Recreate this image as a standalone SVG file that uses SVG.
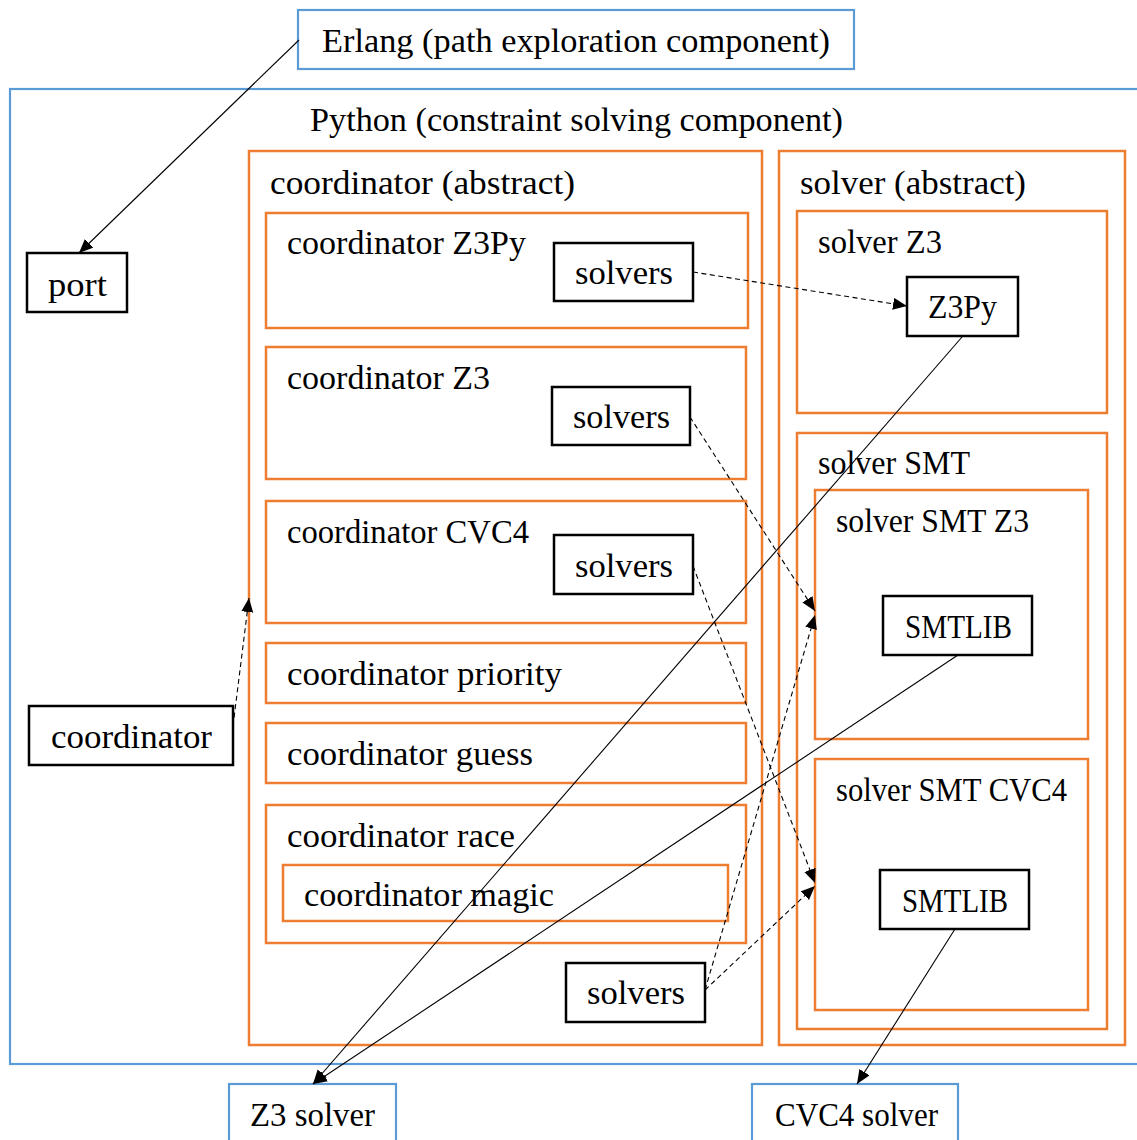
<svg xmlns="http://www.w3.org/2000/svg" width="1137" height="1140" viewBox="0 0 1137 1140">
<style>
.blue{fill:none;stroke:#5b9bd5;stroke-width:2.2}
.orange{fill:none;stroke:#ed7d31;stroke-width:2.5}
.box{fill:#fff;stroke:#000;stroke-width:2.5}
text{font-family:"Liberation Serif","DejaVu Serif",serif;font-size:34px;fill:#000}
.edge{fill:none;stroke:#000;stroke-width:1.1;marker-end:url(#arr)}
.dash{stroke-dasharray:5,3.5}
</style>
<defs>
<marker id="arr" markerUnits="userSpaceOnUse" markerWidth="16" markerHeight="14" refX="14" refY="6" orient="auto">
<path d="M0,0 L14,6 L0,12 z" fill="#000"/>
</marker>
</defs>
<rect width="1137" height="1140" fill="#fff"/>

<g id="erlang"><rect class="blue" x="298" y="10" width="556" height="59"/><text x="322" y="52" textLength="508" lengthAdjust="spacingAndGlyphs">Erlang (path exploration component)</text></g>
<g id="python"><rect class="blue" x="10" y="89" width="1140" height="975"/><text x="310" y="131" textLength="533" lengthAdjust="spacingAndGlyphs">Python (constraint solving component)</text></g>

<g id="coord-abstract"><rect class="orange" x="249" y="151" width="513" height="894"/><text x="270" y="194" textLength="305" lengthAdjust="spacingAndGlyphs">coordinator (abstract)</text></g>
<g id="coord-z3py"><rect class="orange" x="266" y="213" width="482" height="115"/><text x="287" y="254" textLength="239" lengthAdjust="spacingAndGlyphs">coordinator Z3Py</text></g>
<g id="solvers1"><rect class="box" x="554" y="243" width="139" height="58"/><text x="575" y="284" textLength="98" lengthAdjust="spacingAndGlyphs">solvers</text></g>
<g id="coord-z3"><rect class="orange" x="266" y="347" width="480" height="132"/><text x="287" y="389" textLength="203" lengthAdjust="spacingAndGlyphs">coordinator Z3</text></g>
<g id="solvers2"><rect class="box" x="552" y="387" width="138" height="58"/><text x="573" y="428" textLength="97" lengthAdjust="spacingAndGlyphs">solvers</text></g>
<g id="coord-cvc4"><rect class="orange" x="266" y="501" width="480" height="122"/><text x="287" y="543" textLength="242" lengthAdjust="spacingAndGlyphs">coordinator CVC4</text></g>
<g id="solvers3"><rect class="box" x="554" y="535" width="139" height="59"/><text x="575" y="577" textLength="98" lengthAdjust="spacingAndGlyphs">solvers</text></g>
<g id="coord-priority"><rect class="orange" x="266" y="643" width="480" height="60"/><text x="287" y="685" textLength="275" lengthAdjust="spacingAndGlyphs">coordinator priority</text></g>
<g id="coord-guess"><rect class="orange" x="266" y="723" width="480" height="60"/><text x="287" y="765" textLength="246" lengthAdjust="spacingAndGlyphs">coordinator guess</text></g>
<g id="coord-race"><rect class="orange" x="266" y="805" width="480" height="138"/><text x="287" y="847" textLength="228" lengthAdjust="spacingAndGlyphs">coordinator race</text></g>
<g id="coord-magic"><rect class="orange" x="283" y="865" width="445" height="56"/><text x="304" y="906" textLength="250" lengthAdjust="spacingAndGlyphs">coordinator magic</text></g>
<g id="solvers4"><rect class="box" x="566" y="963" width="139" height="59"/><text x="587" y="1004" textLength="98" lengthAdjust="spacingAndGlyphs">solvers</text></g>

<g id="port"><rect class="box" x="27" y="253" width="100" height="59"/><text x="48" y="296" textLength="59" lengthAdjust="spacingAndGlyphs">port</text></g>
<g id="coordinator"><rect class="box" x="29" y="706" width="204" height="59"/><text x="51" y="748" textLength="161" lengthAdjust="spacingAndGlyphs">coordinator</text></g>

<g id="solver-abstract"><rect class="orange" x="779" y="151" width="346" height="894"/><text x="800" y="194" textLength="226" lengthAdjust="spacingAndGlyphs">solver (abstract)</text></g>
<g id="solver-z3"><rect class="orange" x="797" y="211" width="310" height="202"/><text x="818" y="253" textLength="124" lengthAdjust="spacingAndGlyphs">solver Z3</text></g>
<g id="z3py"><rect class="box" x="907" y="277" width="111" height="59"/><text x="928" y="318" textLength="69" lengthAdjust="spacingAndGlyphs">Z3Py</text></g>
<g id="solver-smt"><rect class="orange" x="797" y="433" width="310" height="596"/><text x="818" y="474" textLength="152" lengthAdjust="spacingAndGlyphs">solver SMT</text></g>
<g id="solver-smt-z3"><rect class="orange" x="815" y="490" width="273" height="249"/><text x="836" y="532" textLength="193" lengthAdjust="spacingAndGlyphs">solver SMT Z3</text></g>
<g id="smtlib1"><rect class="box" x="883" y="596" width="149" height="59"/><text x="905" y="638" textLength="107" lengthAdjust="spacingAndGlyphs">SMTLIB</text></g>
<g id="solver-smt-cvc4"><rect class="orange" x="815" y="759" width="273" height="251"/><text x="836" y="801" textLength="231" lengthAdjust="spacingAndGlyphs">solver SMT CVC4</text></g>
<g id="smtlib2"><rect class="box" x="880" y="870" width="149" height="59"/><text x="902" y="912" textLength="106" lengthAdjust="spacingAndGlyphs">SMTLIB</text></g>

<g id="z3-solver"><rect class="blue" x="229" y="1084" width="167" height="70"/><text x="250" y="1126" textLength="125" lengthAdjust="spacingAndGlyphs">Z3 solver</text></g>
<g id="cvc4-solver"><rect class="blue" x="752" y="1084" width="206" height="70"/><text x="775" y="1126" textLength="163" lengthAdjust="spacingAndGlyphs">CVC4 solver</text></g>

<g id="connectors">
<path class="edge" d="M299,40 L79,253"/>
<path class="edge dash" d="M693,272 L907,306"/>
<path class="edge" d="M962,337 L313,1084"/>
<path class="edge dash" d="M690,417 L815,611"/>
<path class="edge dash" d="M693,566 L815,883"/>
<path class="edge dash" d="M233,726 L249,598"/>
<path class="edge" d="M958,655 L313,1084"/>
<path class="edge dash" d="M705,990 L815,615"/>
<path class="edge dash" d="M705,990 L815,886"/>
<path class="edge" d="M955,929 L857,1084"/>
</g>
</svg>
